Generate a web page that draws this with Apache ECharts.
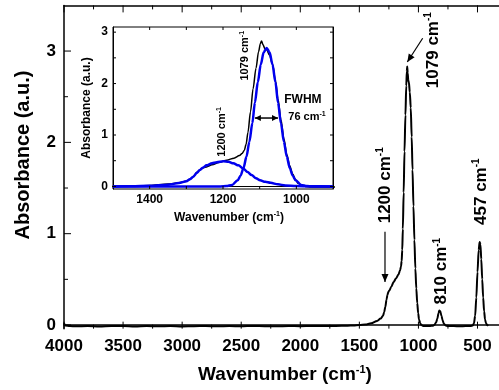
<!DOCTYPE html>
<html>
<head>
<meta charset="utf-8">
<script src="https://cdn.jsdelivr.net/npm/echarts@6/dist/echarts.min.js"></script>
<style>
  html, body { margin: 0; padding: 0; background: #fff; }
  #chart { width: 499px; height: 390px; }
</style>
</head>
<body>
<div id="chart"></div>
<script>
// measured FTIR spectrum (wavenumber, absorbance)
const measWn = [4000, 3990, 3950, 3900, 3800, 3700, 3600, 3500, 3400, 3300, 3200, 3100, 3000, 2900, 2800,
  2700, 2600, 2500, 2400, 2300, 2200, 2100, 2000, 1900, 1800, 1700, 1600, 1550, 1500, 1450, 1400, 1350,
  1320, 1300, 1290, 1280, 1270, 1262, 1255, 1245, 1230, 1210, 1190, 1170, 1155, 1148, 1142, 1137, 1132,
  1125, 1118, 1110, 1103, 1098, 1095, 1091, 1086, 1081, 1073, 1065, 1057, 1050, 1042, 1034, 1026, 1018,
  1010, 1002, 995, 985, 975, 960, 940, 900, 880, 865, 850, 840, 830, 823, 815, 805, 795, 785, 770, 750,
  700, 650, 600, 560, 540, 530, 520, 510, 500, 490, 482, 475, 468, 460, 452, 444, 436, 428, 418, 410];
const measAbs = [0.02, -0.005, -0.012, -0.015, -0.012, -0.017, -0.012, -0.01, -0.016, -0.012, -0.015, -0.011, -0.016, -0.013, -0.01,
  -0.015, -0.012, -0.014, -0.01, -0.013, -0.015, -0.011, -0.013, -0.01, -0.012, -0.01, -0.008, -0.005, 0.0, 0.005, 0.018, 0.045,
  0.07, 0.1, 0.14, 0.2, 0.28, 0.33, 0.36, 0.38, 0.42, 0.47, 0.51, 0.55, 0.6, 0.64, 0.7, 0.82, 1.05,
  1.45, 1.9, 2.3, 2.62, 2.78, 2.83, 2.76, 2.68, 2.66, 2.55, 2.38, 2.06, 1.7, 1.3, 0.93, 0.62, 0.4,
  0.24, 0.13, 0.06, 0.02, 0.0, -0.01, -0.012, -0.01, -0.008, 0.0, 0.03, 0.07, 0.13, 0.16, 0.15, 0.1, 0.05, 0.015, -0.005, -0.012,
  -0.01, -0.015, -0.012, -0.01, -0.005, 0.02, 0.1, 0.3, 0.58, 0.82, 0.91, 0.88, 0.72, 0.5, 0.3, 0.15, 0.06, 0.02, 0.0, -0.01];

// fitted band at 1200 cm-1
const fit1200Wn = [1500, 1450, 1400, 1350, 1320, 1300, 1290, 1281, 1272, 1263, 1254, 1245, 1230, 1217, 1199,
  1185, 1172, 1158, 1145, 1133, 1122, 1110, 1099, 1085, 1070, 1050, 1030, 1000, 960, 900];
const fit1200Abs = [0.0, 0.004, 0.012, 0.035, 0.065, 0.1, 0.14, 0.19, 0.26, 0.32, 0.37, 0.41, 0.45, 0.47, 0.49,
  0.48, 0.45, 0.41, 0.35, 0.28, 0.22, 0.16, 0.12, 0.09, 0.07, 0.04, 0.02, 0.008, 0.002, 0.0];

// fitted band at 1079 cm-1
const fit1079Wn = [1500, 1207, 1191, 1175, 1160, 1152, 1144, 1136, 1128, 1120, 1113, 1105, 1097, 1089, 1081,
  1073, 1065, 1057, 1050, 1042, 1034, 1026, 1018, 1010, 1002, 987, 971, 955, 900];
const fit1079Abs = [0.0, 0.0, 0.006, 0.03, 0.12, 0.21, 0.36, 0.58, 0.87, 1.23, 1.63, 2.03, 2.37, 2.61, 2.69,
  2.61, 2.37, 2.03, 1.63, 1.23, 0.87, 0.58, 0.36, 0.21, 0.12, 0.03, 0.006, 0.0, 0.0];

// tick values
const mainXLabels = [500, 1000, 1500, 2000, 2500, 3000, 3500, 4000];
const mainXMinor = [750, 1250, 1750, 2250, 2750, 3250, 3750];
const mainYLabels = [0, 1, 2, 3];
const mainYMinor = [0.5, 1.5, 2.5];
const insetXTicks = [1000, 1100, 1200, 1300, 1400];
const insetYLabels = [0, 1, 2, 3];
const insetYTicks = [0, 0.5, 1, 1.5, 2, 2.5, 3];

const MAIN_X = [318, 4000], MAIN_Y = [-0.04, 3.5];
const INSET_X = [900, 1500], INSET_Y = [-0.05, 3.1];

const FONT = 'Liberation Sans, Arial, sans-serif';
const black = '#000';
const blue = '#0000ee';
const pairs = (xs, ys) => xs.map((x, i) => [x, ys[i]]);
const lineAxis = (w) => ({ show: true, lineStyle: { color: black, width: w } });
const noTick = { show: false };

const chart = echarts.init(document.getElementById('chart'));

const option = {
  animation: false,
  grid: [
    { left: 64, right: 0, top: 5.4, bottom: 61.35 },
    { left: 113, right: 166, top: 27, bottom: 201, show: true, backgroundColor: '#fff', borderColor: black, borderWidth: 1 }
  ],
  xAxis: [
    {
      gridIndex: 0, type: 'value', min: MAIN_X[0], max: MAIN_X[1], inverse: true, position: 'bottom',
      axisLine: lineAxis(1.5), axisTick: noTick, splitLine: { show: false },
      axisLabel: { customValues: mainXLabels, margin: 9, fontSize: 17, fontWeight: 'bold', color: black, fontFamily: FONT,
        formatter: v => String(v) }
    },
    {
      gridIndex: 0, type: 'value', min: MAIN_X[0], max: MAIN_X[1], inverse: true, position: 'top',
      axisLine: lineAxis(1.5), axisTick: noTick, splitLine: { show: false }, axisLabel: { show: false }
    },
    {
      gridIndex: 1, type: 'value', min: INSET_X[0], max: INSET_X[1], interval: 100, inverse: true, position: 'bottom',
      axisLine: lineAxis(1), axisTick: noTick, splitLine: { show: false },
      axisLabel: { margin: 5, fontSize: 12, fontWeight: 'bold', color: black, fontFamily: FONT,
        formatter: v => (v % 200 === 0 ? String(v) : '') }
    },
    {
      gridIndex: 1, type: 'value', min: INSET_X[0], max: INSET_X[1], interval: 100, inverse: true, position: 'top',
      axisLine: lineAxis(1), axisTick: noTick, splitLine: { show: false }, axisLabel: { show: false }
    }
  ],
  yAxis: [
    {
      gridIndex: 0, type: 'value', min: MAIN_Y[0], max: MAIN_Y[1], position: 'left',
      axisLine: lineAxis(1.5), axisTick: noTick, splitLine: { show: false },
      axisLabel: { customValues: mainYLabels, margin: 8, fontSize: 17, fontWeight: 'bold', color: black, fontFamily: FONT }
    },
    {
      gridIndex: 1, type: 'value', min: INSET_Y[0], max: INSET_Y[1], position: 'left',
      axisLine: lineAxis(1), axisTick: noTick, splitLine: { show: false },
      axisLabel: { customValues: insetYLabels, margin: 5, fontSize: 12, fontWeight: 'bold', color: black, fontFamily: FONT }
    },
    {
      gridIndex: 1, type: 'value', min: INSET_Y[0], max: INSET_Y[1], position: 'right',
      axisLine: lineAxis(1), axisTick: noTick, splitLine: { show: false }, axisLabel: { show: false }
    }
  ],
  series: [
    {
      type: 'line', xAxisIndex: 0, yAxisIndex: 0, data: pairs(measWn, measAbs),
      showSymbol: false, smooth: 0.3, smoothMonotone: 'x',
      lineStyle: { color: black, width: 2 }
    },
    {
      type: 'line', xAxisIndex: 2, yAxisIndex: 1, data: pairs(measWn, measAbs),
      showSymbol: false, smooth: 0.3, smoothMonotone: 'x',
      lineStyle: { color: black, width: 1.5 }
    },
    {
      type: 'line', xAxisIndex: 2, yAxisIndex: 1, data: pairs(fit1200Wn, fit1200Abs),
      showSymbol: false, smooth: 0.3, smoothMonotone: 'x',
      lineStyle: { color: blue, width: 2.5 }
    },
    {
      type: 'line', xAxisIndex: 2, yAxisIndex: 1, data: pairs(fit1079Wn, fit1079Abs),
      showSymbol: false, smooth: 0.3, smoothMonotone: 'x',
      lineStyle: { color: blue, width: 2.5 }
    }
  ]
};

chart.setOption(option);

// annotations and inward ticks, placed in data coordinates
function px(seriesIndex, wn, a) {
  return chart.convertToPixel({ seriesIndex: seriesIndex }, [wn, a]);
}

function seg(x1, y1, x2, y2, w) {
  return { type: 'line', z: 10, shape: { x1: x1, y1: y1, x2: x2, y2: y2 }, style: { stroke: black, lineWidth: w || 1 } };
}

function xTicks(si, vals, yRange, len, out) {
  vals.forEach(v => {
    const b = px(si, v, yRange[0]), t = px(si, v, yRange[1]);
    out.push(seg(b[0], b[1], b[0], b[1] - len), seg(t[0], t[1], t[0], t[1] + len));
  });
}

function yTicks(si, vals, xRange, len, both, out) {
  vals.forEach(v => {
    // inverse x: max wavenumber is on the left
    const l = px(si, xRange[1], v), r = px(si, xRange[0], v);
    out.push(seg(l[0], l[1], l[0] + len, l[1]));
    if (both) out.push(seg(r[0], r[1], r[0] - len, r[1]));
  });
}

function supText(x, y, main, sup, tail, size, rotate) {
  const base = { fontSize: size, fontWeight: 'bold', fontFamily: FONT, fill: black, lineHeight: size + 2 };
  return {
    type: 'text', x: x, y: y, rotation: rotate ? Math.PI / 2 : 0, z: 10,
    style: {
      text: '{m|' + main + '}{s|' + sup + '}' + (tail ? '{m|' + tail + '}' : ''),
      textAlign: 'center', textVerticalAlign: 'middle', align: 'center', verticalAlign: 'middle',
      rich: {
        m: base,
        s: { fontSize: Math.round(size * 0.6), fontWeight: 'bold', fontFamily: FONT, fill: black,
             verticalAlign: 'top', lineHeight: size + 2 }
      }
    }
  };
}

function plainText(x, y, text, size, rotate) {
  return {
    type: 'text', x: x, y: y, rotation: rotate ? Math.PI / 2 : 0, z: 10,
    style: { text: text, textAlign: 'center', textVerticalAlign: 'middle', align: 'center', verticalAlign: 'middle',
      font: 'bold ' + size + 'px ' + FONT, fill: black }
  };
}

function arrowHead(x1, y1, x2, y2, len, half) {
  const ang = Math.atan2(y2 - y1, x2 - x1);
  const bx = x2 - len * Math.cos(ang), by = y2 - len * Math.sin(ang);
  const nx = -Math.sin(ang) * half, ny = Math.cos(ang) * half;
  return {
    type: 'polygon', z: 10,
    shape: { points: [[x2, y2], [bx + nx, by + ny], [bx - nx, by - ny]] },
    style: { fill: black }
  };
}

function arrow(p1, p2, len, half, both, w) {
  const out = [seg(p1[0], p1[1], p2[0], p2[1], w)];
  out.push(arrowHead(p1[0], p1[1], p2[0], p2[1], len, half));
  if (both) out.push(arrowHead(p2[0], p2[1], p1[0], p1[1], len, half));
  return out;
}

const g = [];
let p;

// ticks
xTicks(0, mainXLabels, MAIN_Y, 7, g);
xTicks(0, mainXMinor, MAIN_Y, 4, g);
yTicks(0, mainYLabels, MAIN_X, 7, false, g);
yTicks(0, mainYMinor, MAIN_X, 4, false, g);
xTicks(1, insetXTicks, INSET_Y, 3, g);
yTicks(1, insetYTicks, INSET_X, 3, true, g);

// main plot labels
p = px(0, 877, 3.01); g.push(supText(p[0], p[1], '1079 cm', '-1', '', 17, true));
p = px(0, 1283, 1.53); g.push(supText(p[0], p[1], '1200 cm', '-1', '', 17, true));
p = px(0, 803, 0.59); g.push(supText(p[0], p[1], '810 cm', '-1', '', 17, true));
p = px(0, 470, 1.46); g.push(supText(p[0], p[1], '457 cm', '-1', '', 17, true));
g.push(...arrow(px(0, 964, 3.14), px(0, 1094, 2.88), 8, 3.5, false, 1.2));
g.push(...arrow(px(0, 1283, 1.02), px(0, 1283, 0.47), 8, 3.5, false, 1.2));

// inset labels
p = px(1, 1140, 2.54); g.push(supText(p[0], p[1], '1079 cm', '-1', '', 11, true));
p = px(1, 1203, 1.06); g.push(supText(p[0], p[1], '1200 cm', '-1', '', 11, true));
p = px(1, 982, 1.68); g.push(plainText(p[0], p[1], 'FWHM', 12, false));
p = px(1, 971, 1.35); g.push(supText(p[0], p[1], '76 cm', '-1', '', 11, false));
g.push(...arrow(px(1, 1113, 1.33), px(1, 1050, 1.33), 6, 3, true, 1.5));

// axis titles
g.push(supText(285, 375, 'Wavenumber (cm', '-1', ')', 19, false));
g.push(plainText(23, 155, 'Absorbance (a.u.)', 20, true));
g.push(supText(229, 218, 'Wavenumber (cm', '-1', ')', 12, false));
g.push(plainText(87, 108, 'Absorbance (a.u.)', 12, true));

chart.setOption({ graphic: g });
</script>
</body>
</html>
